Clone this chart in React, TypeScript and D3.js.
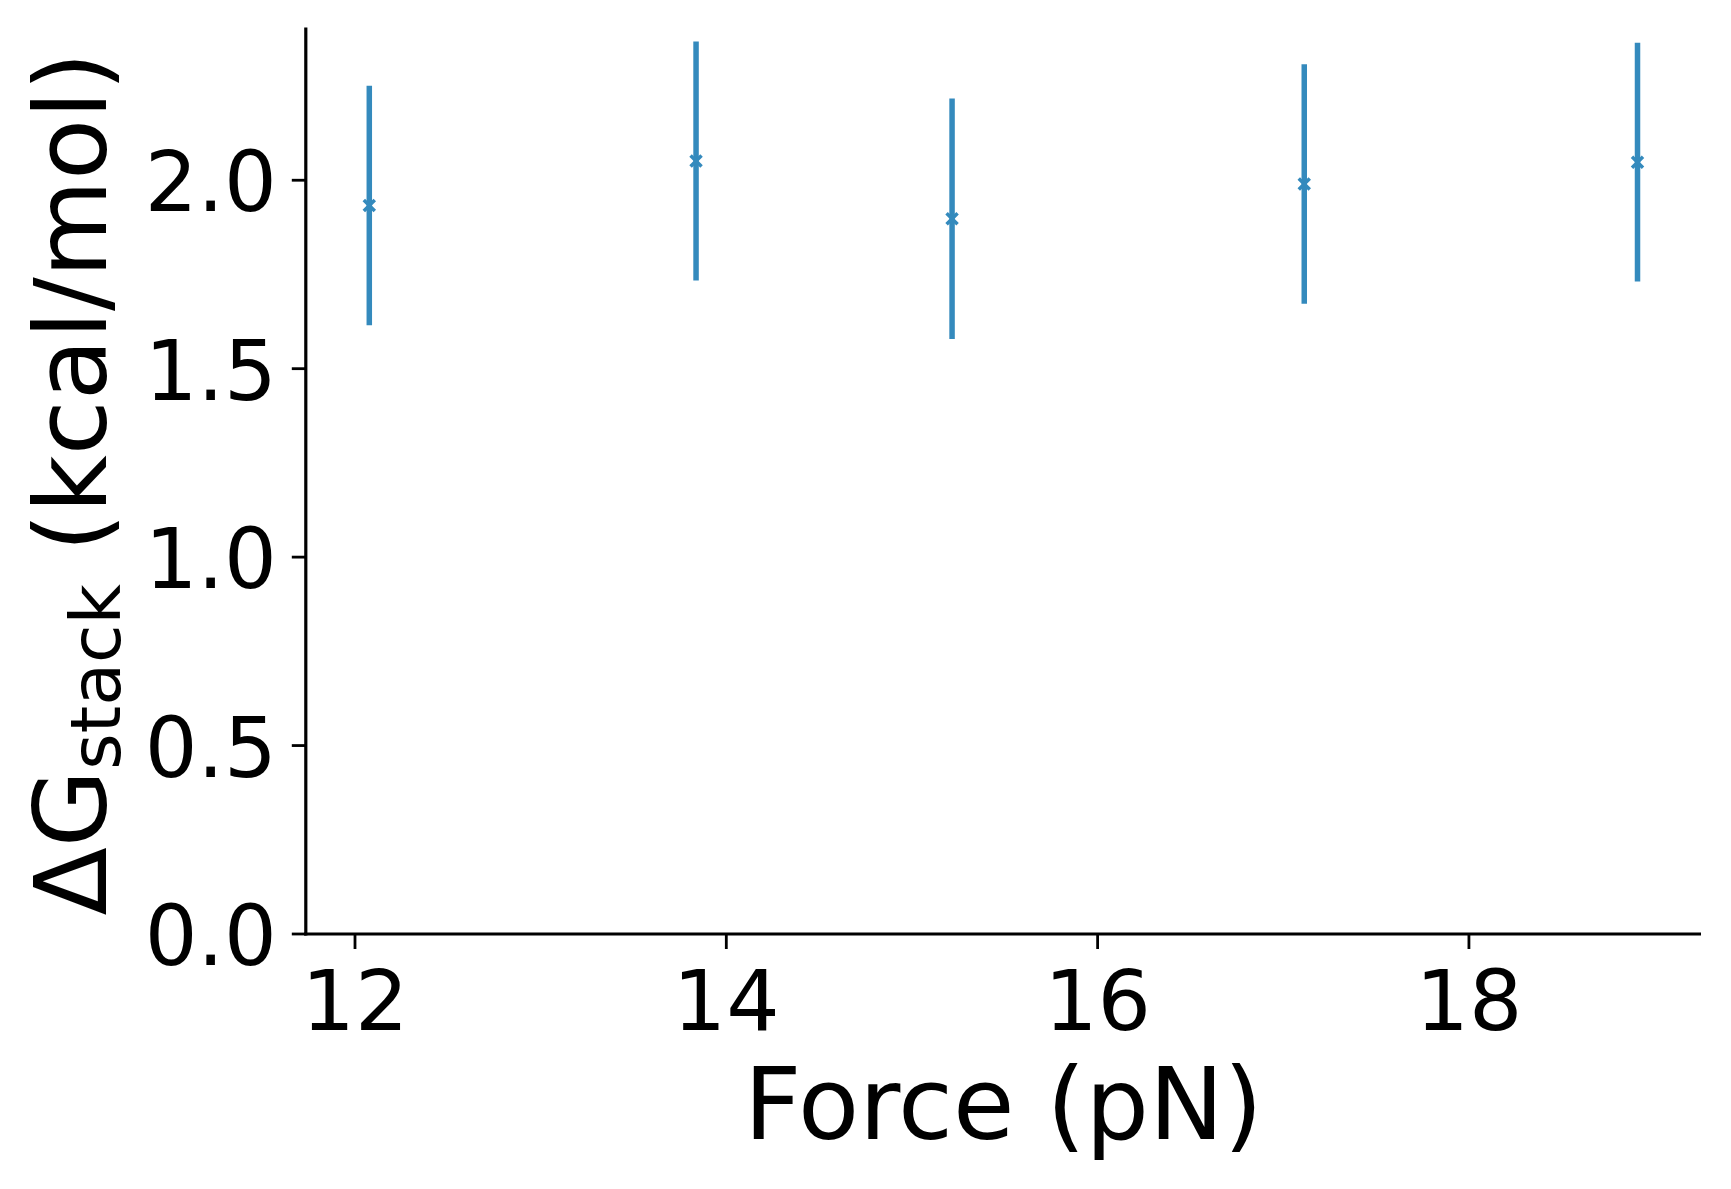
import React, { useEffect } from "react";
import * as d3 from "d3";

const forces = [12.077, 13.837, 15.216, 17.113, 18.908];
const dG = [1.933, 2.051, 1.898, 1.99, 2.048];
const dGErr = [0.318, 0.317, 0.319, 0.318, 0.317];
const xTicks = [12, 14, 16, 18];
const yTicks = [0, 0.5, 1.0, 1.5, 2.0];
const xDomain = [11.735, 19.25];
const yDomain = [0, 2.405];

const W = 1731;
const H = 1189;
const left = 305.8;
const right = 1701;
const top = 27.6;
const bottom = 934;
const color = "#348ABD";
const font = "'DejaVu Sans', sans-serif";

export default function App() {
  useEffect(() => {
    document.body.style.margin = "0";
  }, []);
  const x = d3.scaleLinear().domain(xDomain).range([left, right]);
  const y = d3.scaleLinear().domain(yDomain).range([bottom, top]);
  const ms = 5.5;
  return (
    <svg width={W} height={H} style={{ display: "block", background: "#fff" }} fontFamily={font}>
      {/* error bars */}
      {forces.map((f, i) => (
        <g key={i}>
          <line
            x1={x(f)}
            x2={x(f)}
            y1={y(dG[i] - dGErr[i])}
            y2={y(dG[i] + dGErr[i])}
            stroke={color}
            strokeWidth={5.5}
          />
          <path
            d={`M${x(f) - ms},${y(dG[i]) - ms}L${x(f) + ms},${y(dG[i]) + ms}M${x(f) - ms},${y(dG[i]) + ms}L${x(f) + ms},${y(dG[i]) - ms}`}
            stroke={color}
            strokeWidth={3.5}
            fill="none"
          />
        </g>
      ))}
      {/* spines */}
      <line x1={left} x2={left} y1={top} y2={bottom + 1.6} stroke="#000" strokeWidth={3.2} />
      <line x1={left - 1.6} x2={right} y1={bottom} y2={bottom} stroke="#000" strokeWidth={3.2} />
      {/* y ticks */}
      {yTicks.map((t) => (
        <g key={t}>
          <line x1={left - 14} x2={left} y1={y(t)} y2={y(t)} stroke="#000" strokeWidth={2.8} />
          <text x={left - 29} y={y(t) + 31} fontSize={83} textAnchor="end" fill="#000">
            {t.toFixed(1)}
          </text>
        </g>
      ))}
      {/* x ticks */}
      {xTicks.map((t) => (
        <g key={t}>
          <line x1={x(t)} x2={x(t)} y1={bottom} y2={bottom + 15} stroke="#000" strokeWidth={2.8} />
          <text x={x(t)} y={1030} fontSize={84} textAnchor="middle" fill="#000">
            {t}
          </text>
        </g>
      ))}
      {/* x label */}
      <text x={(left + right) / 2} y={1139} fontSize={100} textAnchor="middle" fill="#000">
        Force (pN)
      </text>
      {/* y label */}
      <text
        transform={`translate(106,${(top + bottom) / 2 + 3}) rotate(-90)`}
        fontSize={100}
        textAnchor="middle"
        fill="#000"
      >
        ΔG
        <tspan fontSize={70} dy={14}>stack</tspan>
        <tspan dy={-14}> (kcal/mol)</tspan>
      </text>
    </svg>
  );
}
